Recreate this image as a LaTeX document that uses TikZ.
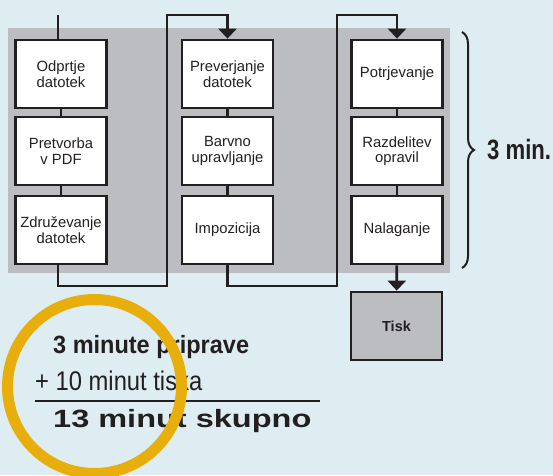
\documentclass[tikz,border=0pt]{standalone}
\usepackage{fontspec}
\setmainfont{Liberation Sans}
\usetikzlibrary{arrows.meta,decorations.pathreplacing}
\definecolor{bgblue}{HTML}{DDEDF1}
\definecolor{panelgray}{HTML}{BCBDC1}
\definecolor{ink}{HTML}{231F20}
\definecolor{ring}{HTML}{E8AE0C}
\tikzset{
  stepbox/.style={draw=ink, line width=2.8pt, fill=white, minimum width=91pt, minimum height=68pt,
    inner sep=0pt, align=center, font=\fontsize{14.8}{15.5}\selectfont, text=ink},
  printbox/.style={stepbox, fill=panelgray, font=\fontsize{14.5}{15}\selectfont\bfseries},
  link/.style={draw=ink, line width=2.7pt},
  arr/.style={link, -{Triangle[width=18pt,length=10pt]}},
}
\begin{document}
\begin{tikzpicture}[x=1pt,y=-1pt]
\useasboundingbox (0,0) rectangle (553,475);
\fill[bgblue] (0,0) rectangle (553,475);
\fill[panelgray] (8,28) rectangle (450,273);
% column 1
\node[stepbox] (a1) at (61,74) {Odprtje\\datotek};
\node[stepbox] (a2) at (61,151) {Pretvorba\\v PDF};
\node[stepbox] (a3) at (61,230) {Združevanje\\datotek};
% column 2
\node[stepbox] (b1) at (227.5,74) {Preverjanje\\datotek};
\node[stepbox] (b2) at (227.5,151) {Barvno\\upravljanje};
\node[stepbox] (b3) at (227.5,230) {Impozicija};
% column 3
\node[stepbox] (c1) at (397,74) {Potrjevanje};
\node[stepbox] (c2) at (397,151) {Razdelitev\\opravil};
\node[stepbox] (c3) at (397,230) {Nalaganje};
\node[printbox] (p) at (396.5,326) {Tisk};
% coordinates
\coordinate (s0) at (58,15);
\coordinate (a3b) at (58,264);
\coordinate (a1t) at (58,40);
% connectors
\draw[link] (s0) -- (a1t);
\draw[link] (a1) -- (a2);
\draw[link] (a2) -- (a3);
\draw[link] (b1) -- (b2);
\draw[link] (b2) -- (b3);
\draw[link] (c1) -- (c2);
\draw[link] (c2) -- (c3);
\draw[arr] (a3b) -- (58,286) -- (167,286) -- (167,15) -- (227.5,15) -- (b1.north);
\draw[arr] (b3.south) -- (227.5,286) -- (337,286) -- (337,15) -- (397,15) -- (c1.north);
\draw[arr] (c3) -- (p);
% brace
\draw[ink, line width=2pt, decorate, decoration={brace, amplitude=12pt}] (462,32) -- (462,268);
\node[anchor=west, inner sep=0pt, text=ink] (t3) at (487,150) {\fontsize{28}{30}\selectfont\bfseries\scalebox{0.79}[1]{3 min.}};
% summary
\node[anchor=base west, inner sep=0pt, text=ink] (l1) at (53,353) {\fontsize{25}{28}\selectfont\bfseries\scalebox{0.94}[1]{3 minute priprave}};
\node[anchor=base west, inner sep=0pt, text=ink] (l2) at (35,390) {\fontsize{27}{30}\selectfont\scalebox{0.88}[1]{+ 10 minut tiska}};
\draw[ink, line width=2.2pt] (35,401) -- (320,401);
\node[anchor=base west, inner sep=0pt, text=ink] (l3) at (53,427) {\fontsize{25}{28}\selectfont\bfseries\scalebox{1.3}[1]{13 minut skupno}};
% ring
\draw[ring, line width=11pt] (94.5,386.5) circle[radius=87];
\end{tikzpicture}
\end{document}
